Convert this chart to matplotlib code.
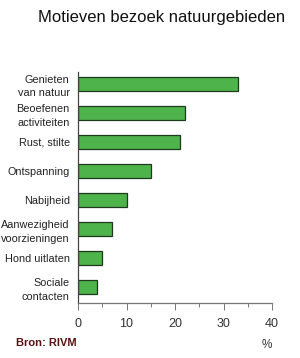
import matplotlib
matplotlib.use("Agg")
import matplotlib.pyplot as plt
from matplotlib.ticker import MultipleLocator

# data
labels = ["Genieten\nvan natuur", "Beoefenen\nactiviteiten", "Rust, stilte", "Ontspanning",
          "Nabijheid", "Aanwezigheid\nvoorzieningen", "Hond uitlaten", "Sociale\ncontacten"]
values = [33, 22, 21, 15, 10, 7, 5, 4]

plt.rcParams['font.family'] = ['Liberation Sans', 'DejaVu Sans']

fig = plt.figure(figsize=(3.0, 3.58), dpi=100)
ax = fig.add_axes([0.26, 0.1536, 0.6467, 0.6453])

pos = list(range(len(values)))
ax.barh(pos, values, height=0.49, color='#4db34a', edgecolor='#1e3a1e', linewidth=0.9)

ax.set_xlim(0, 40)
ax.set_ylim(7.55, -0.41)
ax.set_yticks(pos)
ax.set_yticklabels(labels, fontsize=7.8, color='#222222', linespacing=1.45)
ax.tick_params(axis='y', length=0, pad=6)

ax.xaxis.set_major_locator(MultipleLocator(10))
ax.xaxis.set_minor_locator(MultipleLocator(5))
ax.tick_params(axis='x', which='major', length=5, width=0.7, color='#777777',
               labelsize=9, labelcolor='#333333', pad=6)
ax.tick_params(axis='x', which='minor', length=3, width=0.7, color='#777777')

for s in ['top', 'right']:
    ax.spines[s].set_visible(False)
ax.spines['left'].set_color('#444444')
ax.spines['bottom'].set_color('#777777')
ax.spines['left'].set_linewidth(0.9)
ax.spines['bottom'].set_linewidth(0.9)

fig.text(0.54, 0.952, "Motieven bezoek natuurgebieden", ha='center', va='center',
         fontsize=12, color='#111111')
fig.text(0.053, 0.042, "Bron: RIVM", ha='left', va='center', fontsize=8,
         color='#5a1010', fontweight='bold')
fig.text(0.89, 0.036, "%", ha='center', va='center', fontsize=8.5, color='#333333')

fig.savefig("out.png", dpi=100)
